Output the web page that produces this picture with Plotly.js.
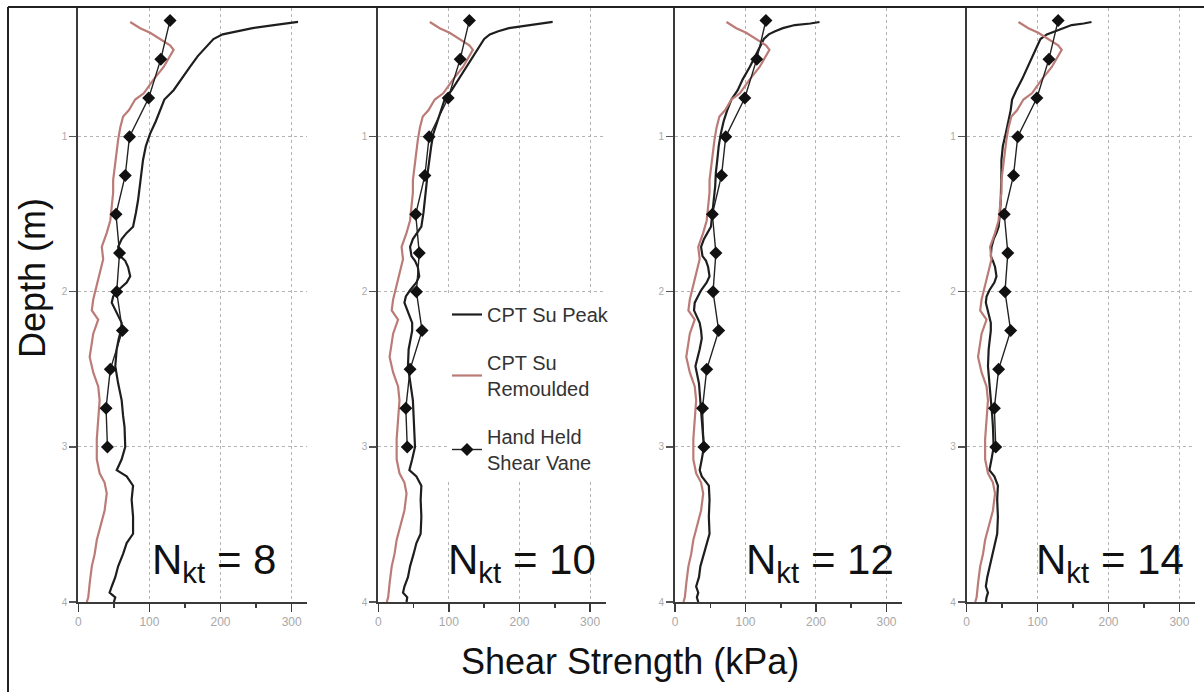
<!DOCTYPE html>
<html>
<head>
<meta charset="utf-8">
<script src="https://cdn.plot.ly/plotly-3.0.1.min.js"></script>
<style>html,body{margin:0;padding:0;background:#fff;}#chart{width:1204px;height:695px;}</style>
</head>
<body>
<div id="chart"></div>
<script>
// ---------------- DATA ----------------
const nktLabels = ["8", "10", "12", "14"];

// depth (m) of CPT peak readings (shared by the four panels)
const peakDepth = [0.26,0.27,0.28,0.30,0.32,0.34,0.37,0.42,0.48,0.55,0.63,0.70,0.76,0.83,0.90,0.98,1.06,1.15,1.23,1.32,1.41,1.49,1.58,1.62,1.66,1.71,1.77,1.80,1.84,1.90,1.94,1.99,2.03,2.07,2.12,2.16,2.20,2.25,2.30,2.37,2.48,2.59,2.70,2.80,2.87,3.00,3.08,3.15,3.19,3.25,3.34,3.45,3.56,3.62,3.69,3.77,3.84,3.90,3.94,3.97,4.00];

// CPT Su Peak (kPa) for Nkt = 8, 10, 12, 14
const peakNkt8  = [309,295,275,245,222,203,190,180,168,157,145,134,121,115,109,101,95,91,89,86,84,81,77,68,61,56,59,66,70,73,68,56,49,47,52,56,61,60,57,54,52,56,61,63,65,66,61,54,68,77,75,77,77,68,63,56,52,47,44,52,50];
const peakNkt10 = [247,232,210,185,170,158,150,143,134,124,113,104,94,89,84,78,75,72,70,68,66,64,61,55,49,45,47,52,56,58,54,45,39,37,41,45,48,48,46,43,42,45,49,50,51,52,48,44,54,61,60,61,60,54,50,45,42,37,35,41,40];
const peakNkt12 = [205,192,170,153,142,133,126,120,114,106,96,89,80,74,69,65,62,60,58,57,55,53,51,46,41,37,39,44,47,49,45,37,32,28,27,31,35,37,38,35,29,34,36,37,39,41,38,35,38,48,49,48,49,45,41,36,34,30,33,31,33];
const peakNkt14 = [176,165,148,136,127,113,104,99,94,87,78,70,64,62,59,55,51,49,49,49,48,47,45,42,38,35,34,37,40,42,39,32,28,27,30,32,34,34,33,31,30,32,35,36,37,38,35,32,39,44,43,44,43,40,36,32,29,27,30,28,27];

// CPT Su Remoulded (kPa)
const remDepth = [0.26,0.30,0.33,0.37,0.41,0.44,0.48,0.55,0.63,0.72,0.76,0.83,0.87,0.94,1.02,1.10,1.19,1.28,1.36,1.45,1.54,1.62,1.71,1.79,1.88,1.97,2.05,2.12,2.18,2.27,2.42,2.52,2.61,2.70,2.83,2.95,3.08,3.17,3.23,3.30,3.41,3.52,3.60,3.69,3.77,3.88,3.97,4.00];
const remValue = [73,87,101,115,129,134,129,120,106,92,80,71,63,59,56,54,52,49,49,47,45,40,33,35,30,26,21,19,28,21,16,21,28,30,28,26,26,30,37,40,37,30,26,23,19,16,14,12];

// Hand held shear vane (kPa)
const vaneDepth = [0.25,0.5,0.75,1.0,1.25,1.5,1.75,2.0,2.25,2.5,2.75,3.0];
const vaneValue = [129,116,99,72,66,53,58,54,62,45,39,41];

const xTicks = [0,100,200,300];
const xMinorTicks = [50,150,250];
const yTicks = [1,2,3,4];
const seriesNames = ["CPT Su Peak", "CPT Su<br>Remoulded", "Hand Held<br>Shear Vane"];

// ---------------- LAYOUT ----------------
const W = 1204, H = 695;
const px = v => v / W;
const py = v => 1 - v / H;
const FONT = "Liberation Sans, Arial, sans-serif";
const peakSets = [peakNkt8, peakNkt10, peakNkt12, peakNkt14];
const xDomPx = [[78.3,307.3],[378.3,605.6],[675,902],[966.7,1195]];
const nLeftPx = [150, 446, 744, 1034];

const traces = [];
const layout = {
  width: W, height: H,
  margin: {l:0, r:0, t:0, b:0},
  paper_bgcolor: "#fff", plot_bgcolor: "#fff",
  font: {family: FONT, color: "#222"},
  showlegend: true,
  legend: {
    x: px(447), y: py(295), xanchor: "left", yanchor: "top",
    bgcolor: "#fff", borderwidth: 0,
    font: {family: FONT, size: 20, color: "#333"},
    tracegroupgap: 19
  },
  annotations: [],
  shapes: [
    {type:"line", xref:"paper", yref:"paper", x0:px(8), x1:px(8), y0:py(7), y1:py(692), line:{color:"#222", width:2}},
    {type:"line", xref:"paper", yref:"paper", x0:px(8), x1:px(1204), y0:py(7), y1:py(7), line:{color:"#222", width:2}}
  ]
};

for (let i = 0; i < 4; i++) {
  const xa = "x" + (i+1), ya = "y" + (i+1);
  const showL = (i === 1);
  traces.push({
    type:"scatter", mode:"lines", name: seriesNames[0],
    x: peakSets[i], y: peakDepth, xaxis: xa, yaxis: ya,
    line:{color:"#1e1e1e", width:2.2},
    showlegend: showL, legendgroup:"peak"
  });
  traces.push({
    type:"scatter", mode:"lines", name: seriesNames[1],
    x: remValue, y: remDepth, xaxis: xa, yaxis: ya,
    line:{color:"#bb7b76", width:2.2},
    showlegend: showL, legendgroup:"rem"
  });
  traces.push({
    type:"scatter", mode:"lines+markers", name: seriesNames[2],
    x: vaneValue, y: vaneDepth, xaxis: xa, yaxis: ya,
    line:{color:"#222", width:1.4},
    marker:{symbol:"diamond", size:10, color:"#111"},
    showlegend: showL, legendgroup:"vane"
  });

  const suf = i === 0 ? "" : String(i+1);
  layout["xaxis" + suf] = {
    domain: [px(xDomPx[i][0]), px(xDomPx[i][1])],
    range: [0, 322], anchor: ya,
    showline: true, linecolor: "#3a3a3a", linewidth: 2,
    ticks: "outside", ticklen: 8, tickwidth: 1.5, tickcolor: "#3a3a3a",
    tickvals: xTicks, ticktext: xTicks.map(String),
    tickfont: {family: FONT, size: 12, color: "#a8a8a8"},
    showgrid: true, gridcolor: "#b4b4b4", griddash: "dot", gridwidth: 1,
    zeroline: false,
    minor: {ticks: "outside", ticklen: 4, tickwidth: 1.5, tickcolor: "#3a3a3a", tickvals: xMinorTicks, showgrid: false},
    fixedrange: true
  };
  layout["yaxis" + suf] = {
    domain: [py(602), py(8)],
    range: [4, 0.17], anchor: xa,
    showline: true, linecolor: "#3a3a3a", linewidth: 2,
    ticks: "outside", ticklen: 7, tickwidth: 1.2, tickcolor: "#555",
    tickvals: yTicks, ticktext: yTicks.map(String),
    tickfont: {family: FONT, size: 10, color: "#aaaaaa"},
    showgrid: true, gridcolor: "#b4b4b4", griddash: "dot", gridwidth: 1,
    zeroline: false, fixedrange: true
  };
  layout.annotations.push({
    xref:"paper", yref:"paper", x: px(nLeftPx[i]), y: py(562),
    xanchor:"left", yanchor:"middle", showarrow:false,
    text: "N<sub>kt</sub> = " + nktLabels[i],
    font: {family: FONT, size: 42, color: "#111"}
  });
}

layout.annotations.push({
  xref:"paper", yref:"paper", x: px(32), y: py(278), textangle: -90,
  xanchor:"center", yanchor:"middle", showarrow:false,
  text:"Depth (m)", font:{family: FONT, size: 36, color:"#111"}
});
layout.annotations.push({
  xref:"paper", yref:"paper", x: px(630), y: py(661),
  xanchor:"center", yanchor:"middle", showarrow:false,
  text:"Shear Strength (kPa)", font:{family: FONT, size: 36, color:"#111"}
});

Plotly.newPlot("chart", traces, layout, {displayModeBar:false, staticPlot:true});
</script>
</body>
</html>
